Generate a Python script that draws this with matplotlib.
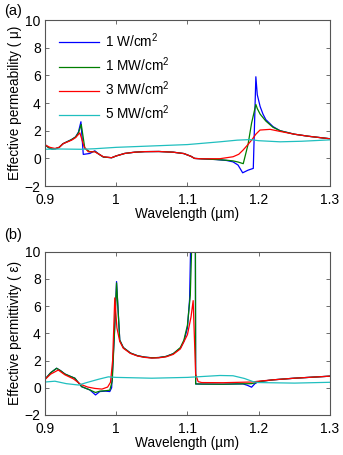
import numpy as np
import matplotlib
matplotlib.use("Agg")
from matplotlib import pyplot as plt

plt.rcParams['font.family'] = ['Liberation Sans', 'DejaVu Sans']
plt.rcParams['mathtext.fontset'] = 'custom'
plt.rcParams['mathtext.rm'] = 'Liberation Sans'

# === DATA ===
# (a) effective permeability
mu_wl_1w = [0.900, 0.905, 0.910, 0.915, 0.920, 0.925, 0.930, 0.937, 0.943, 0.947, 0.9505, 0.9538,
            0.963, 0.970, 0.976, 0.982, 0.9936, 1.000, 1.012, 1.026, 1.04, 1.06, 1.08, 1.095, 1.105,
            1.11, 1.12, 1.14, 1.155, 1.164, 1.171, 1.1775, 1.185, 1.1924, 1.196, 1.198, 1.202, 1.206,
            1.21, 1.22, 1.23, 1.25, 1.27, 1.3]
mu_1w = [1.00, 0.78, 0.68, 0.70, 0.80, 1.05, 1.18, 1.35, 1.55, 1.90, 2.65, 0.29,
         0.36, 0.55, 0.30, 0.10, 0.05, 0.18, 0.36, 0.45, 0.49, 0.50, 0.45, 0.35, 0.15,
         0.00, -0.03, -0.08, -0.15, -0.25, -0.48, -1.04, -0.85, -0.72, 5.90, 4.60, 3.75, 3.20,
         2.80, 2.30, 2.00, 1.75, 1.60, 1.42]

mu_wl_1mw = [0.900, 0.905, 0.910, 0.915, 0.920, 0.925, 0.930, 0.937, 0.943, 0.947, 0.951, 0.956,
             0.963, 0.970, 0.976, 0.982, 0.9936, 1.000, 1.012, 1.026, 1.04, 1.06, 1.08, 1.095, 1.105,
             1.11, 1.12, 1.14, 1.155, 1.164, 1.171, 1.1783, 1.185, 1.190, 1.196, 1.198, 1.202, 1.206,
             1.21, 1.22, 1.23, 1.25, 1.27, 1.3]
mu_1mw = [1.00, 0.78, 0.68, 0.70, 0.80, 1.05, 1.18, 1.35, 1.55, 1.85, 2.45, 0.72,
          0.48, 0.50, 0.30, 0.10, 0.05, 0.18, 0.36, 0.45, 0.49, 0.50, 0.45, 0.35, 0.15,
          0.00, -0.03, -0.08, -0.13, -0.18, -0.26, -0.38, 1.00, 2.55, 3.90, 3.60, 3.20, 2.95,
          2.70, 2.25, 2.00, 1.75, 1.60, 1.42]

mu_wl_3mw = [0.900, 0.907, 0.914, 0.920, 0.926, 0.932, 0.9375, 0.943, 0.949, 0.955, 0.9608, 0.970,
             0.976, 0.982, 0.9936, 1.000, 1.012, 1.026, 1.04, 1.06, 1.08, 1.095, 1.105, 1.11,
             1.12, 1.1456, 1.164, 1.172, 1.178, 1.184, 1.190, 1.196, 1.2018, 1.216, 1.23, 1.25,
             1.27, 1.3]
mu_3mw = [0.98, 0.80, 0.72, 0.80, 1.08, 1.20, 1.32, 1.50, 1.85, 0.84, 0.48, 0.48,
          0.30, 0.12, 0.05, 0.18, 0.36, 0.45, 0.49, 0.50, 0.45, 0.35, 0.15, 0.00,
          -0.03, -0.02, 0.12, 0.30, 0.60, 0.95, 1.32, 1.75, 2.05, 2.10, 1.95, 1.75,
          1.60, 1.42]

mu_wl_5mw = [0.900, 0.92, 0.95, 0.97, 1.00, 1.05, 1.10, 1.1456, 1.17, 1.188, 1.20, 1.23, 1.26, 1.3]
mu_5mw = [0.66, 0.68, 0.66, 0.70, 0.80, 0.90, 1.00, 1.20, 1.32, 1.36, 1.28, 1.20, 1.24, 1.34]

# (b) effective permittivity
eps_wl_1w = [0.900, 0.908, 0.9164, 0.922, 0.928, 0.935, 0.942, 0.9515, 0.963, 0.971, 0.977, 0.985,
             0.991, 0.9936, 0.9975, 1.0005, 1.005, 1.01, 1.02, 1.03, 1.04, 1.05, 1.06, 1.07, 1.08,
             1.09, 1.095, 1.10, 1.103, 1.1045, 1.107, 1.1105, 1.1115, 1.12, 1.15, 1.17, 1.178, 1.184,
             1.19, 1.1947, 1.20, 1.22, 1.25, 1.3]
eps_1w = [0.62, 1.10, 1.43, 1.25, 1.01, 0.85, 0.70, 0.08, -0.16, -0.53, -0.28, -0.25,
          -0.28, 0.00, 4.00, 7.80, 3.50, 2.95, 2.55, 2.35, 2.25, 2.20, 2.22, 2.30, 2.50,
          2.90, 3.40, 4.40, 6.50, 10.5, 30.0, 30.0, 0.28, 0.27, 0.26, 0.28, 0.28, 0.18,
          0.04, 0.30, 0.45, 0.58, 0.70, 0.85]

eps_wl_1mw = [0.900, 0.908, 0.9164, 0.922, 0.928, 0.935, 0.942, 0.9515, 0.963, 0.971, 0.977, 0.985,
              0.991, 0.9945, 0.998, 1.0005, 1.005, 1.01, 1.02, 1.03, 1.04, 1.05, 1.06, 1.07, 1.08,
              1.09, 1.095, 1.10, 1.104, 1.106, 1.108, 1.1105, 1.1115, 1.12, 1.15, 1.17, 1.19,
              1.195, 1.20, 1.22, 1.25, 1.3]
eps_1mw = [0.62, 1.10, 1.43, 1.25, 1.01, 0.85, 0.70, 0.08, -0.16, -0.35, -0.25, -0.22,
           -0.18, 0.50, 4.50, 7.70, 3.50, 2.95, 2.55, 2.35, 2.25, 2.20, 2.22, 2.30, 2.50,
           2.95, 3.50, 4.60, 6.80, 10.5, 30.0, 30.0, 0.28, 0.27, 0.26, 0.28, 0.30,
           0.36, 0.45, 0.58, 0.70, 0.85]

eps_wl_3mw = [0.900, 0.908, 0.9187, 0.928, 0.940, 0.950, 0.960, 0.970, 0.980, 0.988, 0.992, 0.995,
              0.998, 1.001, 1.005, 1.01, 1.02, 1.03, 1.04, 1.05, 1.06, 1.07, 1.08, 1.09, 1.10,
              1.105, 1.108, 1.1115, 1.115, 1.12, 1.15, 1.19, 1.20, 1.22, 1.25, 1.3]
eps_3mw = [0.60, 1.00, 1.30, 0.95, 0.65, 0.25, 0.05, -0.05, -0.10, 0.05, 0.40, 2.00,
           6.60, 4.40, 3.40, 2.90, 2.52, 2.33, 2.23, 2.18, 2.20, 2.27, 2.45, 2.85, 3.90,
           5.20, 6.40, 1.00, 0.45, 0.38, 0.37, 0.42, 0.48, 0.58, 0.70, 0.85]

eps_wl_5mw = [0.900, 0.914, 0.930, 0.947, 0.960, 0.975, 0.989, 1.00, 1.05, 1.10, 1.1456, 1.164,
              1.18, 1.192, 1.20, 1.25, 1.3]
eps_5mw = [0.42, 0.48, 0.30, 0.20, 0.40, 0.62, 0.80, 0.76, 0.70, 0.76, 0.90, 0.88,
           0.68, 0.45, 0.38, 0.34, 0.40]

labels = ['1 W/cm$^2$', '1 MW/cm$^2$', '3 MW/cm$^2$', '5 MW/cm$^2$']
colors = ['#0000ff', '#007f00', '#ff0000', '#20bfbf']
xticks = [0.9, 1.0, 1.1, 1.2, 1.3]
xticklabels = ['0.9', '1', '1.1', '1.2', '1.3']
yticks = [-2, 0, 2, 4, 6, 8, 10]

# === PLOT ===
fig = plt.figure(figsize=(3.43, 4.55), dpi=100)
ax1 = fig.add_axes([0.131, 0.591, 0.831, 0.365])
ax2 = fig.add_axes([0.131, 0.088, 0.831, 0.359])

top = [(mu_wl_1w, mu_1w), (mu_wl_1mw, mu_1mw), (mu_wl_3mw, mu_3mw), (mu_wl_5mw, mu_5mw)]
bot = [(eps_wl_1w, eps_1w), (eps_wl_1mw, eps_1mw), (eps_wl_3mw, eps_3mw), (eps_wl_5mw, eps_5mw)]

for i in range(4):
    ax1.plot(top[i][0], top[i][1], color=colors[i], lw=0.9, label=labels[i])
    ax2.plot(bot[i][0], bot[i][1], color=colors[i], lw=0.9)

for ax in [ax1, ax2]:
    ax.set_xlim(0.9, 1.3)
    ax.set_ylim(-2, 10)
    ax.set_xticks(xticks)
    ax.set_xticklabels(xticklabels)
    ax.set_yticks(yticks)
    ax.tick_params(direction='in', top=True, right=True, labelsize=10, length=3,
                   width=0.6, color='#555555')
    ax.tick_params(axis='x', pad=5)
    ax.tick_params(axis='y', pad=3)
    for s in ax.spines.values():
        s.set_color('#555555')
        s.set_linewidth(0.8)
    ax.set_xlabel('Wavelength (\u00b5m)', fontsize=9.8, labelpad=0)

ax1.set_ylabel('Effective permeability ( \u03bc)', fontsize=9.8, labelpad=2)
ax2.set_ylabel('Effective permittivity ( \u03b5)', fontsize=9.8, labelpad=2)

ax1.legend(loc='upper left', bbox_to_anchor=(0.05, 0.93), frameon=False, fontsize=9.8,
           handlelength=2.9, handletextpad=0.5, labelspacing=0.4, borderaxespad=0,
           borderpad=0)

fig.text(0.012, 0.992, '(a)', fontsize=10.5, va='top', ha='left')
fig.text(0.012, 0.500, '(b)', fontsize=10.5, va='top', ha='left')

plt.savefig('out.png', dpi=100)
